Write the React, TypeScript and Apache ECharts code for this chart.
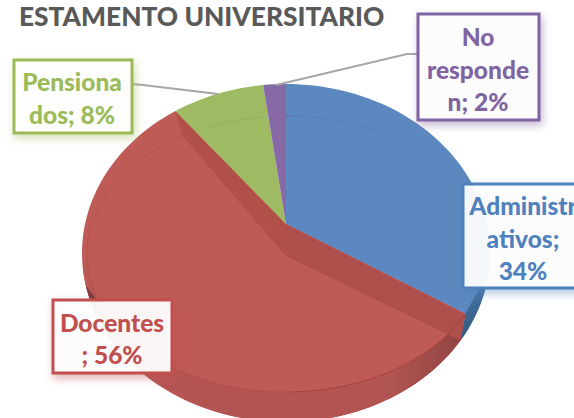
import React, { useEffect, useRef } from "react";
import * as echarts from "echarts";

const titleText = "ESTAMENTO UNIVERSITARIO";
const categories = ["Administrativos", "Docentes", "Pensionados", "No responden"];
const values = [34, 56, 8, 2];
const labelBreaks = [
  ["Administr", "ativos;"],
  ["Docentes", ";"],
  ["Pensiona", "dos;"],
  ["No", "responde", "n;"],
];
const lineColors = ["#4F81BD", "#C0504D", "#9BBB59", "#8064A2"];
const faceColors = ["#5B89BF", "#BE5B57", "#9EBA62", "#8769A6"];
const rimColors = ["#4E7FB8", "#A8423F", "#93B056", "#7D5F9C"];

const apexTop = { x: 286, y: 224 };
const apexLow = { x: 286, y: 256 };
const outer = { cx: 286, cy: 253, rx: 204, ry: 169 };
const inner = { cx: 286, cy: 254, rx: 199, ry: 138 };

const rad = (d: number) => (d * Math.PI) / 180;
const outerAngle = (t: number) => t - 3 * Math.sin(rad(t)) - 1.5 * Math.sin(rad(2 * t));
const innerAngle = (t: number) => t - 8 * Math.sin(rad(t));
const pt = (e: typeof outer, deg: number): [number, number] => [
  e.cx + e.rx * Math.sin(rad(deg)),
  e.cy - e.ry * Math.cos(rad(deg)),
];
const arc = (e: typeof outer, a: number, b: number): [number, number][] => {
  const n = Math.max(2, Math.ceil(Math.abs(b - a) / 2));
  const out: [number, number][] = [];
  for (let i = 0; i <= n; i++) out.push(pt(e, a + ((b - a) * i) / n));
  return out;
};

const total = values.reduce((a, b) => a + b, 0);
const cumulative = values.reduce<number[]>((acc, v) => {
  acc.push((acc.length ? acc[acc.length - 1] : 0) + v);
  return acc;
}, []);

const renderSlice = (params: any) => {
  const i = params.dataIndex;
  const t0 = ((i === 0 ? 0 : cumulative[i - 1]) / total) * 360;
  const t1 = (cumulative[i] / total) * 360;
  const a0 = outerAngle(t0);
  const a1 = outerAngle(t1);
  const b0 = innerAngle(t0);
  const b1 = innerAngle(t1);
  const top: [number, number] = [apexTop.x, apexTop.y];
  const low: [number, number] = [apexLow.x, apexLow.y];
  const children: any[] = [];
  const poly = (points: [number, number][], fill: any, extra: any = {}) => ({
    type: "polygon",
    shape: { points },
    style: { fill, ...extra },
    silent: true,
  });
  const rimLine = (a: number, b: number, stroke: string, opacity = 1) => ({
    type: "polyline",
    shape: { points: arc(inner, a, b) },
    style: { fill: "none", stroke, lineWidth: 1, opacity },
    silent: true,
  });
  if (i === 0) {
    children.push(poly([top, ...arc(outer, a0, a1), pt(inner, b1)], faceColors[0]));
    children.push(rimLine(b0, 104, rimColors[0], 0.8));
    children.push(
      poly([...arc(outer, 96, a1), pt(inner, b1)], {
        type: "linear", x: 0, y: 0, x2: 0, y2: 1,
        colorStops: [
          { offset: 0, color: "#4C7CB0" },
          { offset: 1, color: "#33597F" },
        ],
      })
    );
  } else if (i === 1) {
    children.push(poly([top, pt(inner, b0), ...arc(outer, a0, a1), top], faceColors[1]));
    children.push(
      poly([...arc(outer, a0, 265), ...arc(inner, 265, b0)], {
        type: "linear", x: 0, y: 0, x2: 1, y2: 0,
        colorStops: [
          { offset: 0, color: "#B95855" },
          { offset: 0.35, color: "#B35452" },
          { offset: 0.8, color: "#B25452" },
          { offset: 1, color: "#8F4341" },
        ],
      })
    );
    children.push(poly([top, pt(inner, b0), pt(outer, a0), low], "#AE4F4C"));
    children.push(poly([top, pt(outer, a1), pt(inner, b1), low], "#B15048"));
    children.push(rimLine(b0, 180, rimColors[1]));
    children.push(rimLine(180, b1, rimColors[1], 0.35));
    children.push(poly([...arc(outer, 249, 259), [97, 300]], "#6E3534", { opacity: 0.75 }));
  } else {
    children.push(poly([top, ...arc(outer, a0, a1)], faceColors[i]));
    children.push(rimLine(Math.max(b0, a0 + 8), b1, rimColors[i], 0.8));
    if (i === 2) {
      children.push(poly([top, [top[0] - 8, top[1] - 70], [top[0] - 14, top[1] - 116], [top[0] - 10, top[1] - 116]], "#7FA049"));
    }
  }
  return { type: "group", children };
};

const boxes = [
  { x: 463, y: 184, w: 130, h: 104, cx: 523, tops: [205, 238, 270] },
  { x: 53, y: 300, w: 119, h: 73, cx: 112, tops: [322, 354] },
  { x: 14, y: 60, w: 118, h: 73, cx: 72, tops: [81, 114] },
  { x: 418, y: 14, w: 121, h: 106, cx: 478, tops: [36, 69, 101] },
];

const leaders: [number, number][][] = [
  [],
  [],
  [[132, 84], [143, 85], [218, 94]],
  [[418, 54], [407, 54], [276, 85]],
];

const labelGraphics = () => {
  const out: any[] = [];
  categories.forEach((_, i) => {
    const lines = [...labelBreaks[i]];
    const pct = values[i] + "%";
    if (i === 0) lines.push(pct);
    else lines[lines.length - 1] += " " + pct;
    const b = boxes[i];
    if (leaders[i].length) {
      out.push({
        type: "polyline",
        z: 50,
        shape: { points: leaders[i] },
        style: { fill: "none", stroke: "#A6A6A6", lineWidth: 2 },
      });
    }
    out.push({
      type: "rect",
      z: 60,
      shape: { x: b.x, y: b.y, width: b.w, height: b.h },
      style: {
        fill: "rgba(255,255,255,0.93)",
        stroke: lineColors[i],
        lineWidth: 3,
        shadowBlur: 8,
        shadowOffsetX: 2,
        shadowOffsetY: 4,
        shadowColor: lineColors[i] + "77",
      },
    });
    lines.forEach((line, k) => {
      out.push({
        type: "text",
        z: 61,
        style: {
          x: b.cx,
          y: b.tops[k],
          text: line,
          align: "center",
          verticalAlign: "middle",
          fill: lineColors[i],
          font: "900 24.5px Lato",
        },
      });
    });
  });
  return out;
};

export default function App() {
  const ref = useRef<HTMLDivElement>(null);
  useEffect(() => {
    const chart = echarts.init(ref.current!, null, { renderer: "svg" });
    chart.setOption({
      animation: false,
      backgroundColor: "#fff",
      title: {
        text: titleText,
        left: 19,
        top: 3,
        padding: 0,
        textStyle: { fontFamily: "Lato", fontWeight: 900, fontSize: 26.3, color: "#595959" },
      },
      series: [
        {
          type: "custom",
          coordinateSystem: "none",
          silent: true,
          data: values,
          renderItem: renderSlice,
        },
      ],
      graphic: { elements: labelGraphics() },
    });
    return () => chart.dispose();
  }, []);
  return <div ref={ref} style={{ position: "absolute", left: 0, top: 0, width: 574, height: 418 }} />;
}
